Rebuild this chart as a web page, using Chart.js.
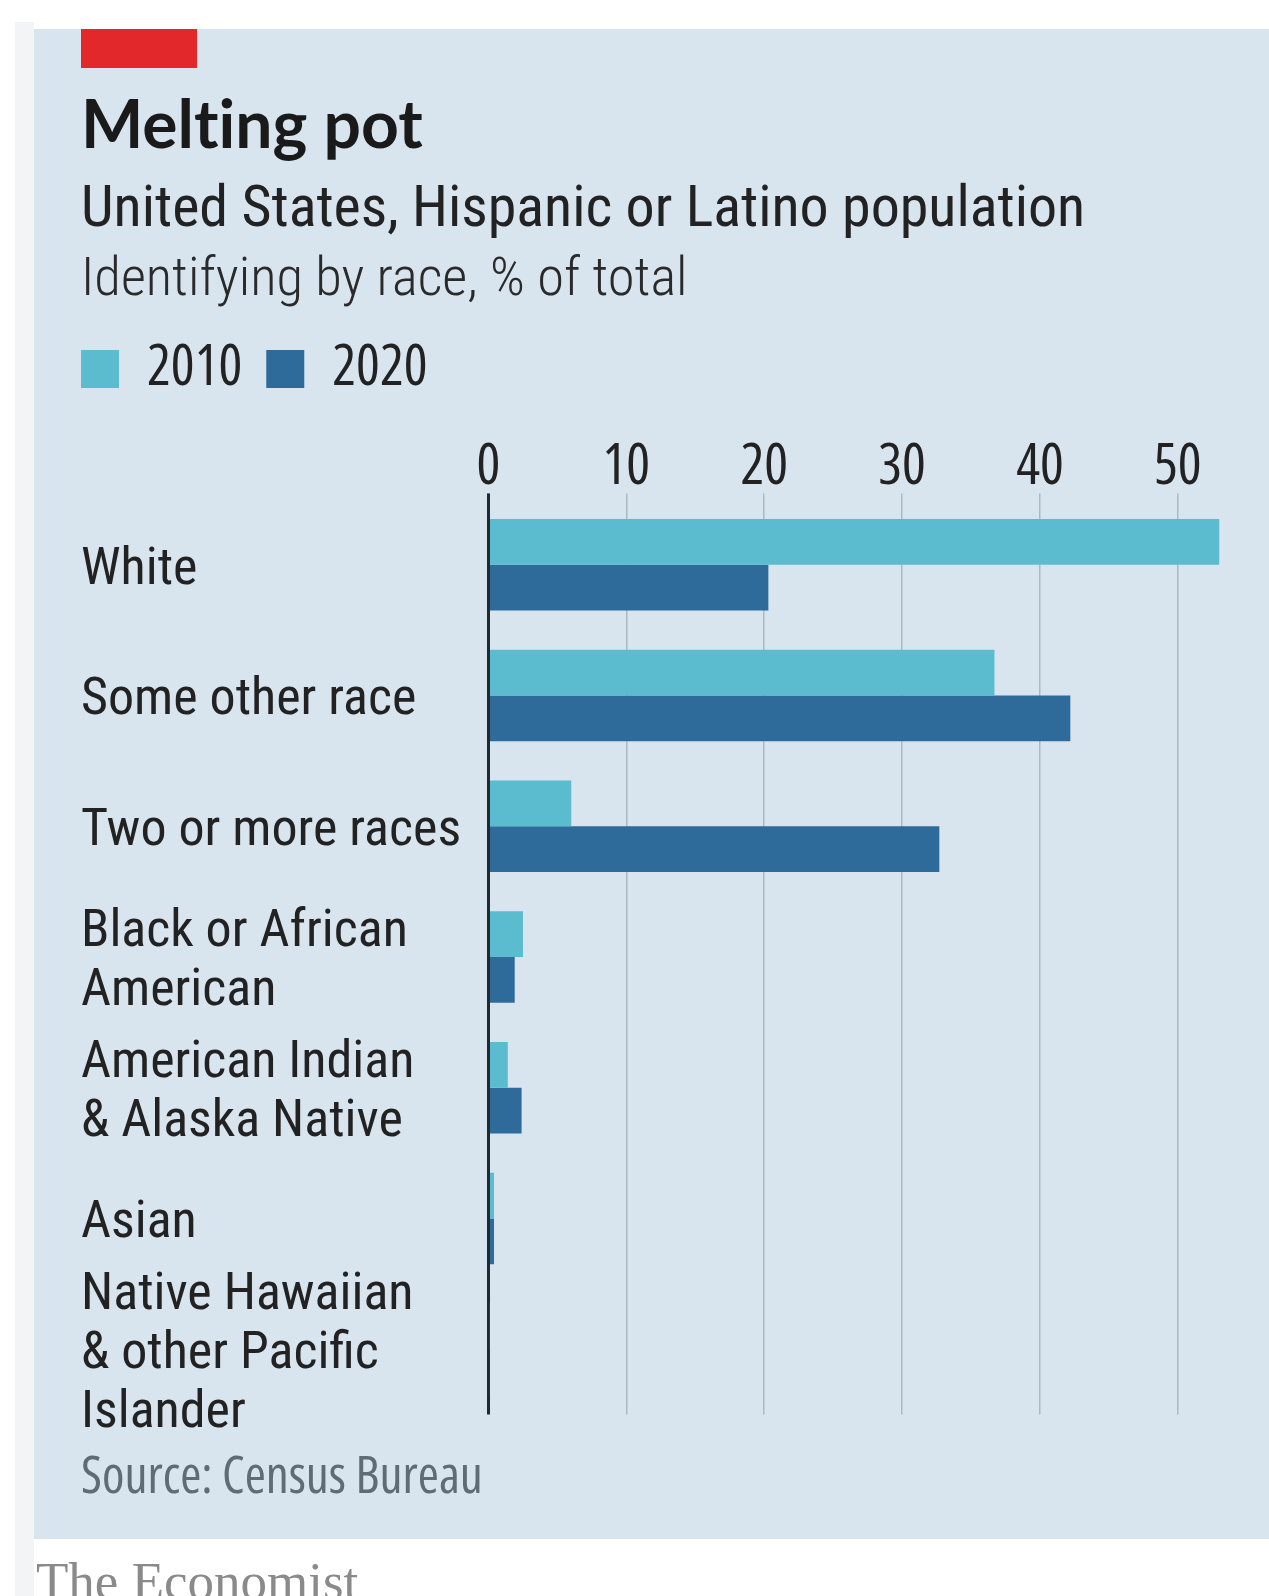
<!DOCTYPE html>
<html>
<head>
<meta charset="utf-8">
<script src="https://cdn.jsdelivr.net/npm/chart.js@4/dist/chart.umd.min.js"></script>
<style>
  body { margin:0; width:1269px; height:1596px; overflow:hidden; background:#fff; position:relative;
         font-family:'Open Sans', sans-serif; font-stretch:75%; color:#222; }
  #strip { position:absolute; left:15px; top:22px; width:19px; height:1574px; background:#f2f4f6; }
  #panel { position:absolute; left:34px; top:29px; width:1235px; height:1510px; background:#d9e5ee; }
  #red { position:absolute; left:81px; top:29px; width:116px; height:39px; background:#e3282b; }
  .t { position:absolute; left:81px; white-space:nowrap; line-height:1; }
  #title { top:83px; font-family:Lato, sans-serif; font-stretch:normal; font-weight:700; font-size:66px;
           line-height:1.2; color:#1a1a1a; font-variant-ligatures:none; }
  #sub { top:177px; font-family:'Roboto Condensed', sans-serif; font-stretch:normal; font-size:58px; }
  #sub2 { top:249px; font-family:'Roboto Condensed', sans-serif; font-stretch:normal; font-size:54.5px; font-weight:300; color:#2a2a2a; }
  #source { top:1448px; font-size:51px; color:#5f6b75; }
  #brand { position:absolute; left:36px; top:1550px; font-family:'Liberation Serif', serif; font-stretch:normal;
           font-size:53px; color:#8a8a8a; line-height:1.2; }
  #wrap { position:absolute; left:0; top:317px; width:1269px; height:1130px; }
</style>
</head>
<body>
<div id="strip"></div>
<div id="panel"></div>
<div id="red"></div>
<div class="t" id="title">Melting pot</div>
<div class="t" id="sub">United States, Hispanic or Latino population</div>
<div class="t" id="sub2">Identifying by race, % of total</div>
<div class="t" id="source">Source: Census Bureau</div>
<div id="brand">The Economist</div>
<div id="wrap"><canvas id="grafico"></canvas></div>

<script>
const categories = [
  'White',
  'Some other race',
  'Two or more races',
  ['Black or African', 'American'],
  ['American Indian', '& Alaska Native'],
  'Asian',
  ['Native Hawaiian', '& other Pacific', 'Islander']
]
const values2010 = [53.0, 36.7, 6.0, 2.5, 1.4, 0.4, 0.1]
const values2020 = [20.3, 42.2, 32.7, 1.9, 2.4, 0.4, 0.1]
const seriesNames = ['2010', '2020']
const xTicks = [0, 10, 20, 30, 40, 50]

const numFam = "'Open Sans', sans-serif"
const txtFam = "'Roboto Condensed', sans-serif"

// legend items start at left + padding, pull them back so the first box lines up with the labels
const shiftLegend = {
  id: 'shiftLegend',
  afterLayout(chart) {
    chart.legend.left -= 24
    chart.legend.right -= 24
  }
}

function init(){
  const grafico = document.getElementById('grafico')
  new Chart(grafico, {
    type: 'bar',
    data: {
      labels: categories,
      datasets: [{
        label: seriesNames[0],
        data: values2010,
        backgroundColor: '#5bbccf',
        borderWidth: 0
      }, {
        label: seriesNames[1],
        data: values2020,
        backgroundColor: '#2e6b9a',
        borderWidth: 0
      }]
    },
    plugins: [shiftLegend],
    options: {
      indexAxis: 'y',
      responsive: true,
      maintainAspectRatio: false,
      animation: false,
      categoryPercentage: 0.7,
      barPercentage: 1.0,
      layout: { padding: { left: 81, right: 36, top: 0, bottom: 32 } },
      plugins: {
        tooltip: { enabled: false },
        legend: {
          position: 'top',
          align: 'start',
          labels: {
            boxWidth: 38,
            boxHeight: 38,
            padding: 24,
            color: '#222',
            font: { family: numFam, size: 56, weight: '400 condensed' }
          }
        }
      },
      scales: {
        x: {
          position: 'top',
          min: 0,
          max: 54,
          afterBuildTicks: s => { s.ticks = xTicks.map(v => ({ value: v })) },
          afterFit: s => { s.height += 36 },
          ticks: { color: '#222', font: { family: numFam, size: 56, weight: '400 condensed', lineHeight: 0.9 }, padding: 0 },
          grid: {
            color: c => (c.tick && c.tick.value === 0) ? '#1e2a33' : '#aeb8c1',
            lineWidth: c => (c.tick && c.tick.value === 0) ? 3 : 1.5,
            tickLength: 6
          },
          border: { display: false }
        },
        y: {
          afterFit: s => { s.width = 407.5 },
          ticks: {
            autoSkip: false,
            crossAlign: 'far',
            labelOffset: 6,
            color: '#222',
            font: { family: txtFam, size: 52, lineHeight: 1.135 }
          },
          grid: { display: false },
          border: { display: false }
        }
      }
    }
  })
}

init()
</script>
</body>
</html>
